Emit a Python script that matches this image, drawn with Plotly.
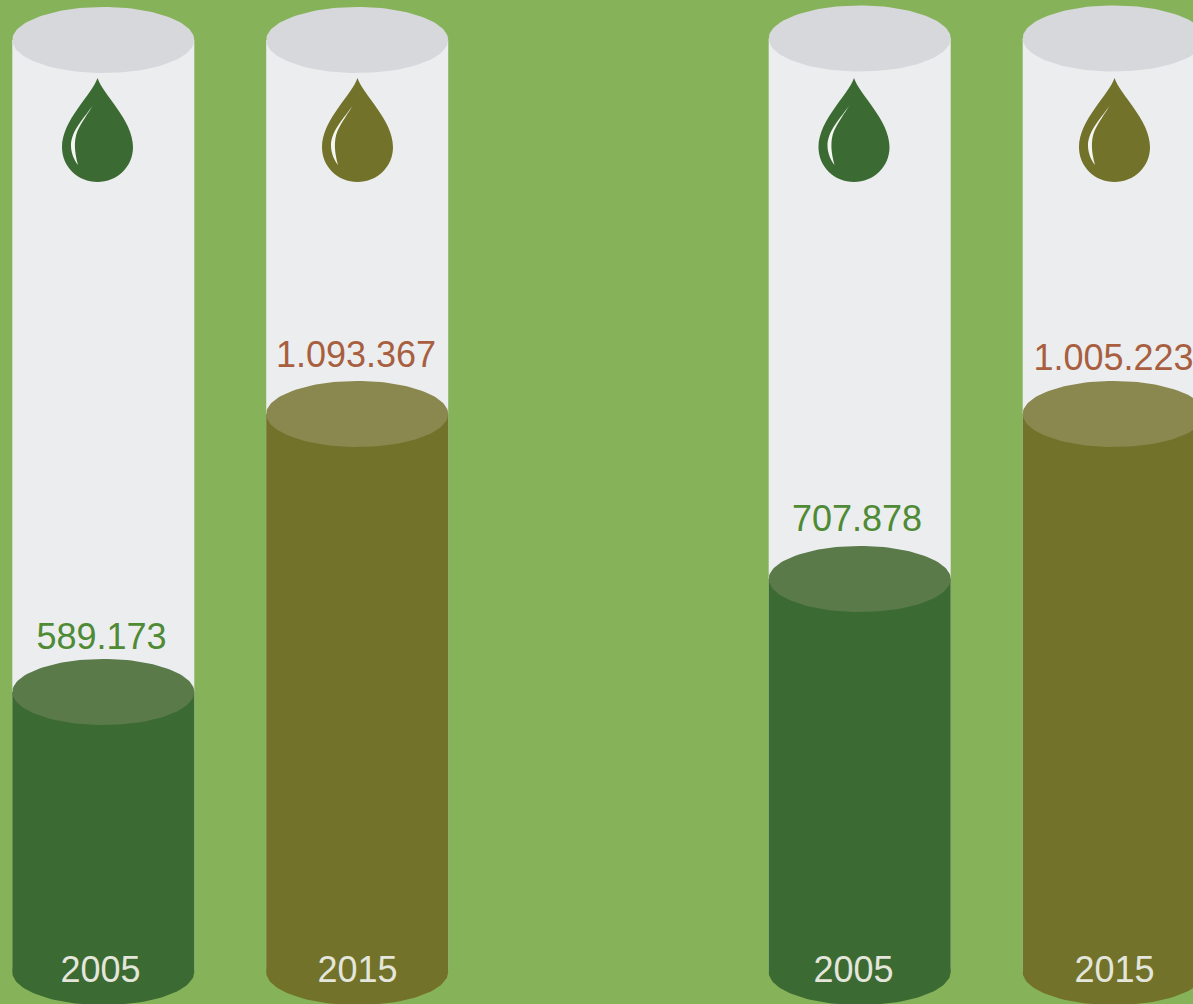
import numpy as np
import plotly.graph_objects as go

# ---- data ----
years = ["2005", "2015", "2005", "2015"]
value_labels = ["589.173", "1.093.367", "707.878", "1.005.223"]
fill_levels = [280, 558, 393, 558]      # visible liquid height above the cylinder base
glass_heights = [932, 932, 933.5, 933.5]

# ---- layout / style ----
W, H = 1193, 1004
BASE_PX = 972
centers = [103.3, 357.2, 859.7, 1113.7]
drop_centers = [97.5, 357.5, 854, 1114.5]
label_x = [101.5, 356, 857, 1113.5]
label_gap = [52.5, 56.5, 57.5, 53.5]
year_x = [100.5, 357.5, 853.5, 1114.5]
BAR_W = 182
RY = 33
BG = "#86B35A"
GLASS = "#ECEDEF"
GLASS_TOP = "#D7D8DB"
liquid = ["#3C6A33", "#72722A", "#3C6A33", "#72722A"]
liquid_top = ["#5A7A4A", "#8A874F", "#5A7A4A", "#8A874F"]
label_col = ["#4F8A35", "#A85F3F", "#4F8A35", "#A85F3F"]
YEAR_COL = "#E4E6DC"
FONT = "Liberation Sans, Arial, sans-serif"


def ellipse(cx, cy, color):
    t = np.linspace(0, 2 * np.pi, 121)
    return go.Scatter(x=cx + BAR_W / 2 * np.cos(t), y=cy + RY * np.sin(t), mode="lines",
                      fill="toself", fillcolor=color, line=dict(width=0), hoverinfo="skip",
                      showlegend=False)


def drop_paths(cx):
    def P(dx, py):
        return f"{cx + dx:.2f},{BASE_PX - py:.2f}"
    body = (f"M{P(0, 78)} C{P(5, 94)} {P(35.5, 120)} {P(35.5, 147)} "
            f"C{P(35.5, 167)} {P(19.5, 182)} {P(0, 182)} "
            f"C{P(-19.5, 182)} {P(-35.5, 167)} {P(-35.5, 147)} "
            f"C{P(-35.5, 120)} {P(-5, 94)} {P(0, 78)} Z")
    shine = (f"M{P(-4.5, 105)} C{P(-13, 118)} {P(-26.5, 130)} {P(-26.5, 146)} "
             f"C{P(-26.5, 153)} {P(-23, 161)} {P(-19.5, 165)} "
             f"C{P(-23, 152)} {P(-24, 141)} {P(-20, 131)} "
             f"C{P(-16, 122)} {P(-9, 113)} {P(-4.5, 105)} Z")
    return body, shine


fig = go.Figure()
fig.add_trace(go.Bar(x=centers, y=glass_heights, width=BAR_W, marker=dict(color=GLASS, line_width=0),
                     hoverinfo="skip", showlegend=False))
fig.add_trace(go.Bar(x=centers, y=fill_levels, width=BAR_W, marker=dict(color=liquid, line_width=0),
                     hoverinfo="skip", showlegend=False))

shapes = []
for i, cx in enumerate(centers):
    fig.add_trace(ellipse(cx, glass_heights[i], GLASS_TOP))
    fig.add_trace(ellipse(cx, 0, liquid[i]))
    fig.add_trace(ellipse(cx, fill_levels[i], liquid_top[i]))
    body, shine = drop_paths(drop_centers[i])
    shapes.append(dict(type="path", path=body, xref="x", yref="y", fillcolor=liquid[i], line_width=0))
    shapes.append(dict(type="path", path=shine, xref="x", yref="y", fillcolor="#F4F6F1", line_width=0))

fig.add_trace(go.Scatter(x=label_x, y=[l + g for l, g in zip(fill_levels, label_gap)],
                         mode="text", text=value_labels,
                         textfont=dict(family=FONT, size=36, color=label_col),
                         textposition="middle center", hoverinfo="skip", showlegend=False))
fig.add_trace(go.Scatter(x=year_x, y=[-1] * 4, mode="text", text=years,
                         textfont=dict(family=FONT, size=36, color=YEAR_COL),
                         textposition="middle center", hoverinfo="skip", showlegend=False))

fig.update_layout(
    width=W, height=H, margin=dict(l=0, r=0, t=0, b=0),
    paper_bgcolor=BG, plot_bgcolor=BG, barmode="overlay", shapes=shapes,
    xaxis=dict(range=[0, W], visible=False, fixedrange=True),
    yaxis=dict(range=[BASE_PX - H, BASE_PX], visible=False, fixedrange=True),
)
fig.write_html("out.html", config={"displayModeBar": False},
               post_script="document.body.style.margin='0';document.body.style.overflow='hidden';")
